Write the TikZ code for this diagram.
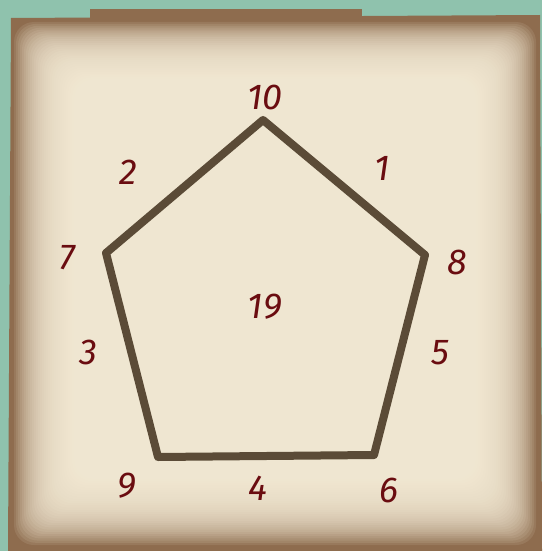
\documentclass[tikz,border=0pt]{standalone}
\usepackage{fontspec}
\setmainfont{Fira Sans}
\begin{document}
\begin{tikzpicture}[x=1pt,y=-1pt,
  numlabel/.style={text=numred,font=\fontsize{36}{38}\selectfont\itshape,inner sep=0pt},
  penta/.style={draw=edgebrown,line width=8pt,line join=round}]
\definecolor{teal0}{HTML}{8FC2AD}
\definecolor{parchedge}{HTML}{8E6C4E}
\definecolor{cream}{HTML}{F8EFDA}
\definecolor{edgebrown}{HTML}{5B4B37}
\definecolor{numred}{HTML}{6A0C10}
\useasboundingbox (0,0) rectangle (542,551);
\fill[teal0] (0,0) rectangle (542,551);
% top strip
\fill[parchedge] (90,9) rectangle (362,22);
% parchment
\fill[parchedge] (11,18) -- (540,15) -- (542,551) -- (8,551) -- cycle;
\foreach \i in {0,...,44}{
  \fill[cream,opacity=0.1,rounded corners=20pt] (14+2*\i,22+1.9*\i) rectangle (536-2*\i,545-2.2*\i);
}
% pentagon
\coordinate (A) at (263,120);
\coordinate (B) at (425,255);
\coordinate (C) at (374,455);
\coordinate (D) at (158,457);
\coordinate (E) at (106,253);
\draw[penta] (A) -- (B) -- (C) -- (D) -- (E) -- cycle;
% labels
\node[numlabel] (n10) at (265,97) {10};
\node[numlabel] (n1) at (382,168) {1};
\node[numlabel] (n2) at (128,172) {2};
\node[numlabel] (n8) at (457,262) {8};
\node[numlabel] (n7) at (67,258) {7};
\node[numlabel] (n19) at (265,307) {19};
\node[numlabel] (n5) at (440,353) {5};
\node[numlabel] (n3) at (88,352) {3};
\node[numlabel] (n9) at (127,486) {9};
\node[numlabel] (n4) at (258,488) {4};
\node[numlabel] (n6) at (389,490) {6};
\end{tikzpicture}
\end{document}
